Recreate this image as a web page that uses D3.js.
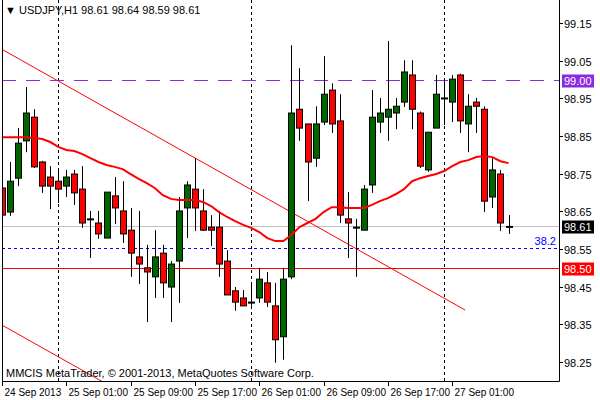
<!DOCTYPE html>
<html><head><meta charset="utf-8">
<script src="https://cdn.jsdelivr.net/npm/d3@7"></script>
<style>body{margin:0;background:#fff}svg{display:block}text{font-family:"Liberation Sans",Arial,sans-serif;font-size:11px}</style>
</head><body><svg id="chart" width="600" height="400"></svg>
<script>
// H1 bars, first bar = 24 Sep 2013 17:00
var opens  = [98.712,98.648,98.738,98.837,98.900,98.781,98.741,98.730,98.717,98.749,98.709,98.630,98.619,98.579,98.691,98.651,98.600,98.529,98.500,98.476,98.539,98.449,98.518,98.659,98.709,98.651,98.608,98.608,98.518,98.439,98.420,98.409,98.420,98.460,98.399,98.317,98.476,98.921,98.882,98.791,98.887,98.972,98.890,98.630,98.608,98.600,98.720,98.887,98.900,98.911,98.940,99.012,98.911,98.760,98.871,98.951,98.940,99.012,98.882,98.940,98.921,98.688,98.749,98.61];
var highs  = [98.720,98.781,98.871,98.980,98.921,98.784,98.770,98.760,98.760,98.760,98.770,98.651,98.651,98.701,98.741,98.730,98.659,98.651,98.561,98.600,98.561,98.518,98.688,98.730,98.791,98.709,98.640,98.651,98.547,98.449,98.441,98.457,98.500,98.489,98.460,98.500,99.091,99.030,98.882,98.929,99.062,98.990,98.961,98.701,98.630,98.720,98.972,98.951,99.102,98.951,99.051,99.051,98.915,98.860,99.012,98.998,99.012,99.015,98.961,98.951,98.929,98.791,98.760,98.64];
var lows   = [98.449,98.638,98.717,98.807,98.765,98.699,98.656,98.672,98.688,98.667,98.606,98.526,98.577,98.579,98.616,98.566,98.476,98.457,98.356,98.420,98.420,98.356,98.407,98.579,98.598,98.598,98.558,98.476,98.428,98.386,98.399,98.399,98.407,98.396,98.248,98.256,98.470,98.837,98.677,98.768,98.879,98.858,98.619,98.526,98.476,98.600,98.699,98.858,98.837,98.868,98.927,98.868,98.765,98.755,98.871,98.879,98.887,98.858,98.807,98.858,98.648,98.659,98.598,98.59];
var closes = [98.640,98.730,98.831,98.911,98.768,98.717,98.717,98.709,98.741,98.699,98.619,98.630,98.590,98.701,98.659,98.590,98.539,98.510,98.489,98.529,98.460,98.510,98.651,98.720,98.659,98.600,98.600,98.510,98.428,98.409,98.399,98.409,98.470,98.409,98.309,98.470,98.911,98.871,98.781,98.882,98.961,98.882,98.640,98.619,98.608,98.709,98.900,98.911,98.921,98.929,99.020,98.921,98.770,98.860,98.961,98.951,99.001,98.890,98.929,98.929,98.677,98.760,98.619,98.61];
var maValues = [98.847,98.847,98.847,98.847,98.845,98.842,98.834,98.821,98.813,98.810,98.802,98.791,98.781,98.773,98.768,98.762,98.749,98.736,98.725,98.712,98.693,98.683,98.680,98.680,98.680,98.675,98.664,98.648,98.635,98.624,98.614,98.606,98.595,98.579,98.571,98.571,98.587,98.608,98.619,98.630,98.648,98.661,98.661,98.659,98.659,98.659,98.667,98.677,98.685,98.696,98.709,98.730,98.738,98.744,98.749,98.757,98.770,98.781,98.786,98.794,98.797,98.794,98.783,98.778];
var priceTicks = [99.15,99.05,98.95,98.85,98.75,98.65,98.55,98.45,98.35,98.25];
var timeTicks = [[0,"24 Sep 2013"],[8,"25 Sep 01:00"],[16,"25 Sep 09:00"],[24,"25 Sep 17:00"],[32,"26 Sep 01:00"],[40,"26 Sep 09:00"],[48,"26 Sep 17:00"],[56,"27 Sep 01:00"]];
var dayBreaks = [7, 31, 55];
// trend channel: [index, price] end points
var trend1 = [[-0.25, 99.083], [57.6, 98.388]];
var trend2 = [[-0.25, 98.351], [57.6, 97.656]];
var levels = [
  {p: 99.00, color: "#8a2be2", dash: "14,10", label: "99.00", bg: "#8a2be2"},
  {p: 98.61, color: "#c0c0c0", dash: null, label: "98.61", bg: "#000"},
  {p: 98.553, color: "#0000ff", dash: "3,3", label: null},
  {p: 98.50, color: "#ff0000", dash: null, label: "98.50", bg: "#ff0000"}
];

var svg = d3.select("#chart");
var pLeft = 2, pRight = 559, pTop = 0, pBottom = 381;
var x = d3.scaleLinear().domain([0, 1]).range([2, 10.04]);
var y = d3.scaleLinear().domain([98.25, 99.15]).range([362, 23]);

svg.append("defs").append("clipPath").attr("id", "clip")
  .append("rect").attr("x", pLeft).attr("y", pTop).attr("width", pRight - pLeft).attr("height", pBottom - pTop);
var plot = svg.append("g").attr("clip-path", "url(#clip)");

// day separators
plot.selectAll(".day").data(dayBreaks).enter().append("line")
  .attr("x1", d => Math.round(x(d)) + 0.5).attr("x2", d => Math.round(x(d)) + 0.5).attr("y1", pTop).attr("y2", pBottom)
  .attr("stroke", "#000").attr("stroke-dasharray", "3,3");

// horizontal levels
plot.selectAll(".lvl").data(levels).enter().append("line")
  .attr("x1", pLeft).attr("x2", pRight).attr("y1", d => Math.round(y(d.p)) + 0.5).attr("y2", d => Math.round(y(d.p)) + 0.5)
  .attr("stroke", d => d.color).attr("stroke-dasharray", d => d.dash);
plot.append("text").attr("x", 556).attr("y", y(98.553) - 3).attr("text-anchor", "end")
  .attr("fill", "#0000ff").text("38.2");

// trend lines
[trend1, trend2].forEach(function(t){
  plot.append("line").attr("x1", x(t[0][0])).attr("y1", y(t[0][1])).attr("x2", x(t[1][0])).attr("y2", y(t[1][1]))
    .attr("stroke", "#ff0000").attr("stroke-width", 1);
});

// candles
var idx = d3.range(opens.length);
plot.selectAll(".wick").data(idx).enter().append("line")
  .attr("x1", i => Math.round(x(i)) + 0.5).attr("x2", i => Math.round(x(i)) + 0.5)
  .attr("y1", i => y(highs[i])).attr("y2", i => y(lows[i])).attr("stroke", "#000");
plot.selectAll(".body").data(idx).enter().append("rect")
  .attr("x", i => Math.round(x(i)) - 2.5).attr("width", 6)
  .attr("y", i => y(Math.max(opens[i], closes[i])))
  .attr("height", i => Math.max(1, Math.abs(y(opens[i]) - y(closes[i]))))
  .attr("fill", i => closes[i] > opens[i] ? "#006400" : (closes[i] < opens[i] ? "#ff0000" : "none"))
  .attr("stroke", "#000");

// moving average
plot.append("path").datum(maValues)
  .attr("d", d3.line().x((d, i) => x(i)).y(d => y(d)))
  .attr("fill", "none").attr("stroke", "#ff0000").attr("stroke-width", 2);

// frame
svg.append("path").attr("d", "M" + (pLeft + 0.5) + "," + pTop + "V" + (pBottom + 0.5) + "H" + (pRight + 0.5) + "V" + pTop)
  .attr("fill", "none").attr("stroke", "#000");

// price axis
priceTicks.forEach(function(p){
  var yy = Math.round(y(p)) + 0.5;
  svg.append("line").attr("x1", pRight).attr("x2", pRight + 4).attr("y1", yy).attr("y2", yy).attr("stroke", "#000");
  svg.append("text").attr("x", 564).attr("y", yy + 4).text(p.toFixed(2));
});
levels.filter(d => d.label).forEach(function(d){
  var yy = Math.round(y(d.p)) + 0.5;
  svg.append("rect").attr("x", 562).attr("y", yy - 6).attr("width", 32).attr("height", 13).attr("fill", d.bg);
  svg.append("text").attr("x", 564).attr("y", yy + 4).attr("fill", "#fff").text(d.label);
});

// time axis
timeTicks.forEach(function(t){
  var xx = Math.round(x(t[0])) + 0.5;
  svg.append("line").attr("x1", xx).attr("x2", xx).attr("y1", pBottom).attr("y2", pBottom + 5).attr("stroke", "#000");
  svg.append("text").attr("x", xx + 2).attr("y", 396).style("font-size", "10px").text(t[1]);
});

svg.append("text").attr("x", 5).attr("y", 14).text("\u25BC USDJPY,H1  98.61 98.64 98.59 98.61");
svg.append("text").attr("x", 6).attr("y", 377).text("MMCIS MetaTrader, \u00A9 2001-2013, MetaQuotes Software Corp.");
</script></body></html>
